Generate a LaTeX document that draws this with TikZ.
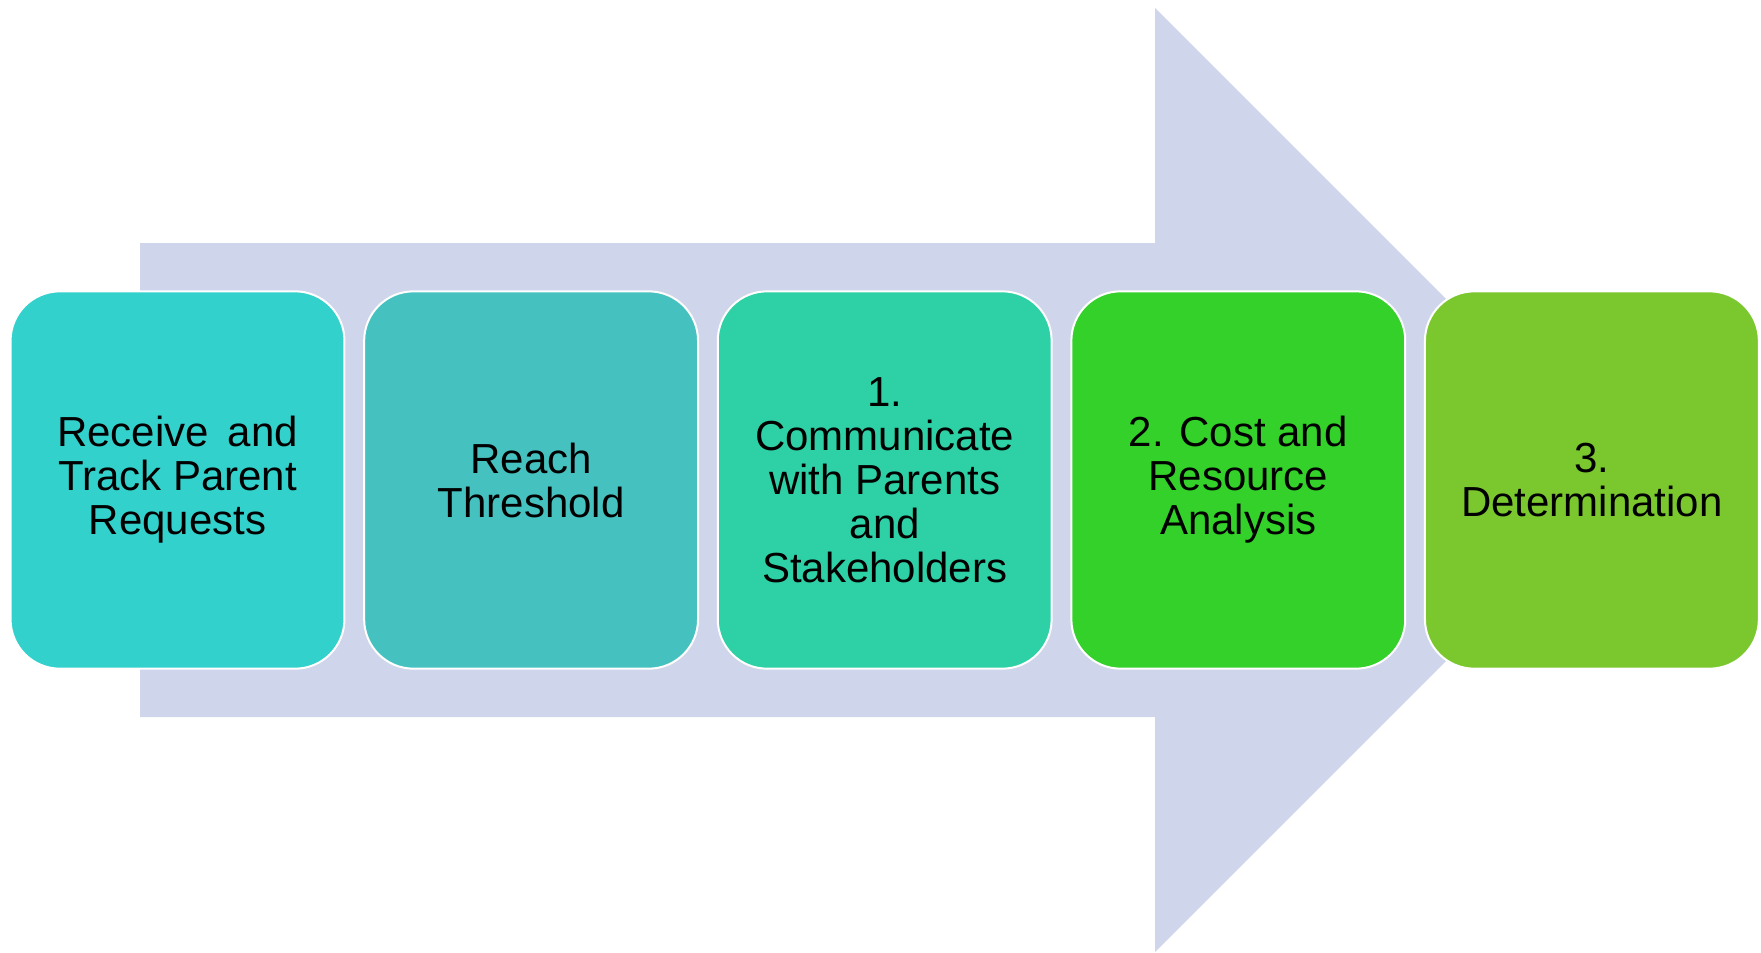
\documentclass[tikz,border=0pt]{standalone}
\usepackage{fontspec}
\setmainfont{Liberation Sans}
\usetikzlibrary{positioning}
\definecolor{arrowfill}{RGB}{207,213,234}
\definecolor{boxa}{RGB}{51,209,204}
\definecolor{boxb}{RGB}{69,194,192}
\definecolor{boxc}{RGB}{46,209,166}
\definecolor{boxd}{RGB}{51,209,42}
\definecolor{boxe}{RGB}{122,199,46}
\tikzset{
  stepbox/.style={draw=white, line width=1.5pt, rounded corners=37pt,
    minimum width=250.4pt, minimum height=283pt, align=center,
    font=\fontsize{31.5}{33}\selectfont, inner sep=0pt},
}
\begin{document}
\begin{tikzpicture}[x=0.75pt,y=0.75pt,yscale=-1,xscale=1, node distance=13.3pt]
\useasboundingbox (0,0) rectangle (1761,953);
%Shape: Right Arrow
\fill [arrowfill]
(140,243) -- (1155,243) -- (1155,8) -- (1627,480) -- (1155,952) -- (1155,717) -- (140,717) -- cycle ;
%Rounded Rect
\node [stepbox, fill=boxa] (receive) at (177.5,480) {Receive\hspace{0.45em}and\\Track Parent\\Requests};
%Rounded Rect
\node [stepbox, fill=boxb, right=of receive] (threshold) {Reach\\Threshold};
%Rounded Rect
\node [stepbox, fill=boxc, right=of threshold] (communicate) {1.\\Communicate\\with Parents\\and\\Stakeholders};
%Rounded Rect
\node [stepbox, fill=boxd, right=of communicate] (analysis) {2. Cost and\\Resource\\Analysis};
%Rounded Rect
\node [stepbox, fill=boxe, right=of analysis] (determination) {3.\\Determination};
\end{tikzpicture}
\end{document}
